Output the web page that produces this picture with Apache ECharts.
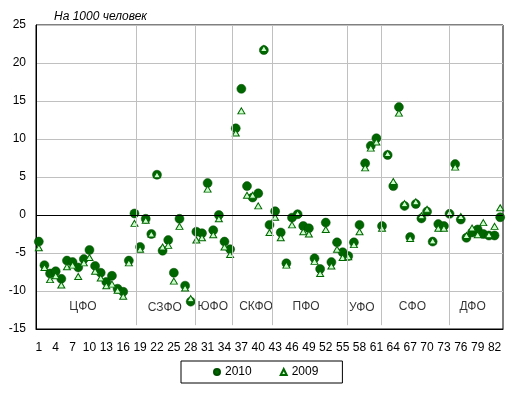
<!DOCTYPE html>
<html><head><meta charset="utf-8">
<script src="https://cdn.jsdelivr.net/npm/echarts@6/dist/echarts.min.js"></script>
<style>html,body{margin:0;padding:0;background:#fff}#c{width:518px;height:394px}</style>
</head><body><div id="c"></div>
<script>
var regions = [];
for (var i = 1; i <= 83; i++) regions.push(String(i));

var values2010 = [-3.5,-6.6,-7.7,-7.4,-8.4,-6.0,-6.2,-6.9,-5.8,-4.6,-6.7,-7.6,-8.8,-8.0,-9.7,-10.1,-6.0,0.2,
  -4.2,-0.5,-2.5,5.3,-4.7,-3.3,-7.6,-0.5,-9.3,-11.4,
  -2.2,-2.4,4.2,-2.0,0.0,-3.5,-4.5,
  11.4,16.6,3.8,2.3,2.85,21.7,
  -1.3,0.5,-2.3,-6.35,-0.35,0.1,-1.45,-1.75,-5.7,-7.1,-1.0,-6.2,-3.6,-4.9,
  -5.4,-3.6,-1.3,6.8,9.1,10.1,
  -1.45,7.9,3.8,14.2,1.2,-2.9,1.45,-0.45,0.45,-3.5,-1.2,-1.45,
  0.15,6.7,-0.6,-3.0,-2.3,-1.9,-2.5,-2.7,-2.7,-0.3];

var values2009 = [-4.3,-6.9,-8.5,-8.0,-9.2,-6.8,-6.6,-8.1,-6.3,-5.6,-7.4,-8.3,-9.3,-9.1,-9.9,-10.7,-6.3,-1.1,
  -4.5,-0.7,-2.5,5.3,-4.2,-4.0,-8.7,-1.5,-9.6,-11.0,
  -3.3,-3.0,3.4,-2.6,-0.5,-4.2,-5.2,
  10.8,13.7,2.6,2.6,1.2,21.9,
  -2.3,-0.3,-3.0,-6.6,-1.3,0.2,-2.2,-2.5,-6.1,-7.7,-1.9,-6.7,-4.5,-5.6,
  -5.5,-3.9,-2.2,6.2,8.8,9.6,
  -1.75,8.1,4.4,13.4,1.5,-3.1,1.75,-0.1,0.75,-3.4,-1.75,-1.75,
  0.35,6.3,-0.2,-2.7,-1.7,-2.6,-1.0,-2.6,-1.5,0.95];

var districtNames = ['ЦФО','СЗФО','ЮФО','СКФО','ПФО','УФО','СФО','ДФО'];
var districtLabelX = [8.85,23.4,31.9,39.6,48.5,58.4,67.4,78.1];
var districtLabelY = [-12.0,-12.2,-12.0,-12.0,-12.0,-12.2,-12.1,-12.0];
var separatorX = [18.4,28.8,35.35,42.5,55.8,61.9,73.95];
var yTicks = {min:-15, max:25, step:5};

var green = '#006600';
var font = 'Liberation Sans, Arial, sans-serif';

var sepLines = separatorX.map(function(x){
  return [{coord:[x, yTicks.max]}, {coord:[x, -14.5]}];
});
sepLines.push([{coord:[0.5, 0], lineStyle:{color:'#000', width:1, type:'solid'}}, {coord:[83.5, 0]}]);

var labelData = districtNames.map(function(n, i){
  return {name:n, value:[districtLabelX[i], districtLabelY[i]]};
});

var chart = echarts.init(document.getElementById('c'), null, {renderer:'canvas'});
chart.setOption({
  animation:false,
  backgroundColor:'#fff',
  title:{text:'На 1000 человек', left:54, top:11, padding:0,
    textStyle:{fontFamily:font, fontSize:12, fontStyle:'italic', fontWeight:'normal', color:'#000'}},
  grid:{left:36, right:15, top:25, bottom:65, show:true, borderColor:'#000', borderWidth:1, backgroundColor:'transparent'},
  legend:{data:['2010','2009'], left:181, top:361, orient:'horizontal',
    borderColor:'#000', borderWidth:1, padding:[4,24,4,32], itemGap:28,
    itemWidth:6, itemHeight:6,
    textStyle:{fontFamily:font, fontSize:12, color:'#000', lineHeight:14}},
  xAxis:[{
    type:'category', data:regions, boundaryGap:true,
    axisLine:{show:true, onZero:false, lineStyle:{color:'#000'}},
    axisTick:{show:false},
    axisLabel:{interval:2, margin:13, color:'#000', fontFamily:font, fontSize:12},
    splitLine:{show:false}
  },{
    type:'value', min:0.5, max:83.5, show:false, splitLine:{show:false}
  }],
  yAxis:{
    type:'value', min:yTicks.min, max:yTicks.max, interval:yTicks.step,
    axisLine:{show:true, lineStyle:{color:'#000'}},
    axisTick:{show:false},
    axisLabel:{margin:10, color:'#000', fontFamily:font, fontSize:12},
    splitLine:{show:true, lineStyle:{color:'#c0c0c0', width:1}}
  },
  series:[{
    name:'helper', type:'scatter', xAxisIndex:1, data:labelData,
    symbolSize:0, silent:true, z:1,
    label:{show:true, position:'inside', formatter:'{b}', color:'#000', fontFamily:font, fontSize:12},
    markLine:{silent:true, symbol:['none','none'], label:{show:false},
      lineStyle:{color:'#c0c0c0', width:1, type:'solid'}, data:sepLines}
  },{
    name:'2010', type:'scatter', data:values2010, symbol:'circle', symbolSize:9, z:3,
    itemStyle:{color:green, borderColor:'#004d00', borderWidth:0.5, opacity:1}
  },{
    name:'2009', type:'scatter', data:values2009, symbol:'triangle', symbolSize:[7,6], z:4,
    itemStyle:{color:'#ccffcc', borderColor:green, borderWidth:1, opacity:1}
  }]
});
</script></body></html>
